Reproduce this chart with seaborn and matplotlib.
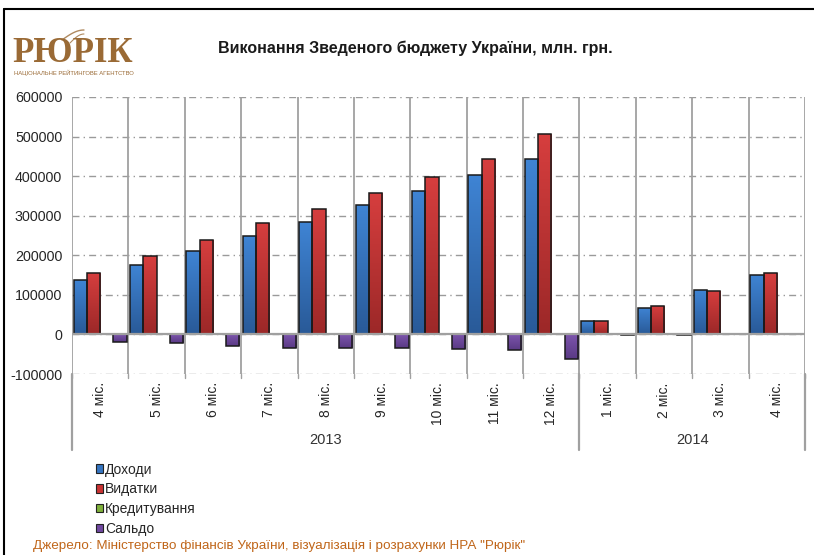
import numpy as np
import pandas as pd
import matplotlib
matplotlib.use('Agg')
import matplotlib.pyplot as plt
from matplotlib.patches import Patch
from matplotlib.lines import Line2D
from matplotlib.colors import LinearSegmentedColormap, to_rgb
import seaborn as sns

# ---- дані (млн. грн.) ----
periods = ['4 міс.', '5 міс.', '6 міс.', '7 міс.', '8 міс.', '9 міс.', '10 міс.', '11 міс.', '12 міс.',
           '1 міс.', '2 міс.', '3 міс.', '4 міс. ']
years = ['2013', '2014']
year_sizes = [9, 4]
dohody = [137800, 175500, 211000, 247500, 284500, 327000, 362700, 402000, 442500,
          32700, 68000, 111500, 151000]
vydatky = [156000, 197000, 239000, 281000, 318000, 358000, 398700, 442500, 505500,
           33000, 71000, 111000, 154000]
kredytuvannia = [0, 0, 0, 0, 0, 0, 0, 0, 0, 0, 0, 0, 0]
saldo = [-19000, -22000, -28500, -35000, -35000, -34500, -38000, -40000, -63000,
         -500, -2500, 0, 1800]
series = ['Доходи', 'Видатки', 'Кредитування', 'Сальдо']
colors = ['#3574c0', '#c93232', '#7fb03a', '#7048a0']
# світлий верх / темний низ для градієнта
grad_top = ['#3f84d4', '#d63e3e', '#8cc444', '#7d55ad']
grad_bot = ['#295a98', '#9c2828', '#5f8a2a', '#5a3a85']
y_ticks = [-100000, 0, 100000, 200000, 300000, 400000, 500000, 600000]

df = pd.DataFrame({
    'period': periods * 4,
    'series': np.repeat(series, len(periods)),
    'value': dohody + vydatky + kredytuvannia + saldo,
})

sns.set_theme(style='white')
plt.rcParams['font.family'] = ['Liberation Sans', 'DejaVu Sans']

fig = plt.figure(figsize=(8.14, 5.55), dpi=100)
ax = fig.add_axes([72 / 814, 1 - 374 / 555, (805 - 72) / 814, (374 - 97) / 555])

sns.barplot(data=df, x='period', y='value', hue='series', order=periods, hue_order=series,
            palette=colors, width=0.94, errorbar=None, edgecolor='#1a1a1a', linewidth=1.1,
            legend=False, ax=ax, zorder=3)

ax.set_xlim(-0.5, len(periods) - 0.5)
ax.set_ylim(-100000, 600000)

# градієнтна заливка стовпців (вертикальна)
n = len(periods)
grad = np.linspace(1, 0, 64).reshape(-1, 1)
for k, p in enumerate(list(ax.patches)[:4 * n]):
    s = k // n
    h = p.get_height()
    if abs(h) < 1:
        continue
    cmap = LinearSegmentedColormap.from_list('g%d' % s, [to_rgb(grad_bot[s]), to_rgb(grad_top[s])])
    x0, y0 = p.get_x(), p.get_y()
    w = p.get_width()
    ylo, yhi = min(y0, y0 + h), max(y0, y0 + h)
    im = ax.imshow(grad, cmap=cmap, aspect='auto', extent=(x0, x0 + w, ylo, yhi),
                   origin='upper', zorder=3.1, interpolation='bilinear')
    im.set_clip_path(p)
    p.set_facecolor('none')
    p.set_zorder(3.2)

ax.set_xlim(-0.5, len(periods) - 0.5)
ax.set_ylim(-100000, 600000)
ax.set_yticks(y_ticks)
ax.set_yticklabels([str(v) for v in y_ticks], fontsize=10.3)
ax.set_xlabel('')
ax.set_ylabel('')
ax.set_xticks(range(len(periods)))
ax.set_xticklabels([p.strip() for p in periods], rotation=90, fontsize=10, va='top')
ax.tick_params(axis='x', length=0, pad=6)
ax.tick_params(axis='y', length=0, pad=7)

# сітка
for v in y_ticks:
    ax.axhline(v, color='#9a9a9a', lw=1.0, ls=(0, (5, 3, 1, 3)), zorder=1)
for i in range(len(periods) + 1):
    ax.axvline(i - 0.5, color='#a0a0a0', lw=1.3, zorder=1)
ax.axhline(0, color='#a0a0a0', lw=1.6, zorder=4)

for s in ax.spines.values():
    s.set_visible(False)

# групування за роками
tr = ax.get_xaxis_transform()
bounds = [-0.5]
for m in year_sizes:
    bounds.append(bounds[-1] + m)
for b in bounds:
    ax.plot([b, b], [0, -76 / 277], transform=tr, color='#a0a0a0', lw=1.6, clip_on=False)
for i in range(len(periods) + 1):
    ax.plot([i - 0.5, i - 0.5], [0, -4 / 277], transform=tr, color='#a0a0a0', lw=1.0, clip_on=False)
for k, yr in enumerate(years):
    ax.text((bounds[k] + bounds[k + 1]) / 2, -66 / 277, yr, transform=tr,
            ha='center', va='center', fontsize=10.5, color='#333333')

# заголовок і логотип
fig.text(415 / 814, 1 - 48 / 555, 'Виконання Зведеного бюджету України, млн. грн.',
         ha='center', va='center', fontsize=11.5, fontweight='bold', color='#1a1a1a')
fig.text(12 / 814, 1 - 53 / 555, 'РЮРІК', ha='left', va='center', fontsize=25,
         family=['Liberation Serif', 'DejaVu Serif'], fontweight='bold', color='#9a6a35')
fig.text(14 / 814, 1 - 73 / 555, 'НАЦІОНАЛЬНЕ РЕЙТИНГОВЕ АГЕНТСТВО', ha='left', va='center',
         fontsize=4.2, color='#9a6a35')
# стилізоване крило над логотипом
t = np.linspace(0, 1, 30)
fig.add_artist(Line2D((62 + 22 * t) / 814, 1 - (40 - 10 * np.sin(t * np.pi / 2)) / 555,
                      color='#b08a60', lw=1.0))
fig.add_artist(Line2D((70 + 14 * t) / 814, 1 - (43 - 9 * np.sin(t * np.pi / 2)) / 555,
                      color='#b08a60', lw=0.8))

# рамка
fig.add_artist(Line2D([4 / 814, 4 / 814], [0, 1 - 9 / 555], color='black', lw=1.5))
fig.add_artist(Line2D([4 / 814, 1], [1 - 9 / 555, 1 - 9 / 555], color='black', lw=1.5))

# легенда
handles = [Patch(facecolor=c, edgecolor='#222222', lw=0.8, label=s) for c, s in zip(colors, series)]
fig.legend(handles=handles, loc='upper left', bbox_to_anchor=(90 / 814, 1 - 457 / 555),
           frameon=False, fontsize=10, handlelength=0.55, handleheight=0.55,
           handletextpad=0.15, labelspacing=0.42, borderaxespad=0)

fig.text(33 / 814, 1 - 546 / 555,
         'Джерело: Міністерство фінансів України, візуалізація і розрахунки НРА "Рюрік"',
         ha='left', va='center', fontsize=9.7, color='#c0661a')

fig.savefig('out.png', dpi=100)
